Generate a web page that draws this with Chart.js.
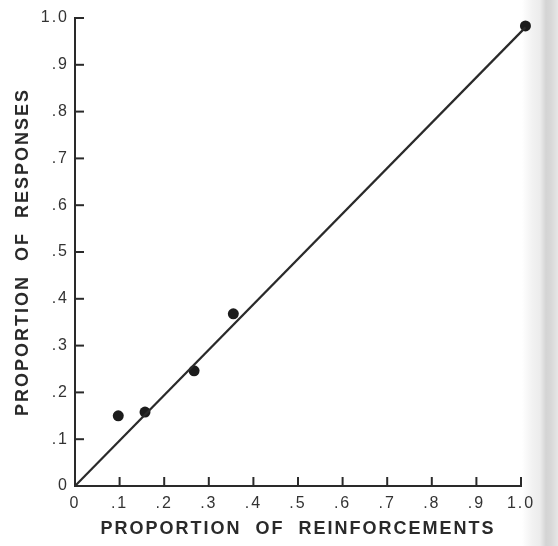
<!DOCTYPE html>
<html>
<head>
<meta charset="utf-8">
<script src="https://cdn.jsdelivr.net/npm/chart.js@4"></script>
<style>
  html, body { margin: 0; padding: 0; }
  body {
    width: 558px; height: 546px; overflow: hidden;
    background: linear-gradient(to right, #fff 0, #fff 522px, #f2f2f2 532px, #ececec 540px, #d4d4d4 546px, #d8d8d8 551px, #e6e6e6 558px);
  }
  #wrap { position: relative; width: 558px; height: 546px; }
</style>
</head>
<body>
<div id="wrap"><canvas id="c" width="558" height="546"></canvas></div>
<script>
// Observed points
const reinforcementProportion = [0.097, 0.157, 0.267, 0.355, 1.01];
const responseProportion      = [0.150, 0.158, 0.246, 0.368, 0.983];

// Fitted line end points
const fitX = [0, 1.01];
const fitY = [0, 0.98];

// Axis ticks
const tickValues = [0, 0.1, 0.2, 0.3, 0.4, 0.5, 0.6, 0.7, 0.8, 0.9, 1.0];
const tickLabels = ['0', '.1', '.2', '.3', '.4', '.5', '.6', '.7', '.8', '.9', '1.0'];

const ink = '#2a2a2a';
const tickFont = { family: "'Liberation Sans', Arial, sans-serif", size: 16 };
const titleFont = { family: "'Liberation Sans', Arial, sans-serif", size: 18, weight: 'bold' };

// Short tick marks pointing into the plot area
const innerTicks = {
  id: 'innerTicks',
  afterDatasetsDraw(chart) {
    const { ctx, chartArea: a, scales: { x, y } } = chart;
    ctx.save();
    ctx.strokeStyle = ink;
    ctx.lineWidth = 2;
    tickValues.forEach(v => {
      if (v === 0) return;
      const py = y.getPixelForValue(v);
      ctx.beginPath(); ctx.moveTo(a.left, py); ctx.lineTo(a.left + 9, py); ctx.stroke();
      const px = x.getPixelForValue(v);
      ctx.beginPath(); ctx.moveTo(px, a.bottom); ctx.lineTo(px, a.bottom - 9); ctx.stroke();
    });
    ctx.restore();
  }
};

// Wider lettering for the typewritten labels
const spacing = {
  id: 'spacing',
  beforeDraw(chart) { chart.ctx.letterSpacing = '2px'; }
};

const axisCommon = (titleText, titlePad) => ({
  type: 'linear',
  min: 0,
  max: 1,
  afterBuildTicks: s => { s.ticks = tickValues.map(v => ({ value: v })); },
  ticks: {
    callback: (v, i) => tickLabels[i],
    font: tickFont,
    color: '#333',
    autoSkip: false,
    maxRotation: 0
  },
  grid: { drawOnChartArea: false, drawTicks: false },
  border: { display: true, color: ink, width: 2 },
  title: { display: true, text: titleText, font: titleFont, color: ink, padding: titlePad }
});

const xAxis = axisCommon('PROPORTION  OF  REINFORCEMENTS', { top: 0, bottom: 6 });
xAxis.ticks.padding = 8;
xAxis.afterFit = s => { s.height = 60; };

const yAxis = axisCommon('PROPORTION  OF  RESPONSES', { top: 12, bottom: 0 });
yAxis.ticks.padding = 6;
yAxis.afterFit = s => { s.width = 75; };

new Chart(document.getElementById('c'), {
  type: 'scatter',
  data: {
    datasets: [
      {
        data: fitX.map((x, i) => ({ x, y: fitY[i] })),
        showLine: true,
        borderColor: '#2a2a2a',
        borderWidth: 2.2,
        pointRadius: 0,
        clip: false
      },
      {
        data: reinforcementProportion.map((x, i) => ({ x, y: responseProportion[i] })),
        pointRadius: 5.5,
        backgroundColor: '#1c1c1c',
        borderWidth: 0,
        clip: false
      }
    ]
  },
  options: {
    responsive: false,
    animation: false,
    layout: { padding: { top: 18, right: 37, left: 0, bottom: 0 } },
    plugins: { legend: { display: false }, tooltip: { enabled: false } },
    scales: { x: xAxis, y: yAxis }
  },
  plugins: [spacing, innerTicks]
});
</script>
</body>
</html>
